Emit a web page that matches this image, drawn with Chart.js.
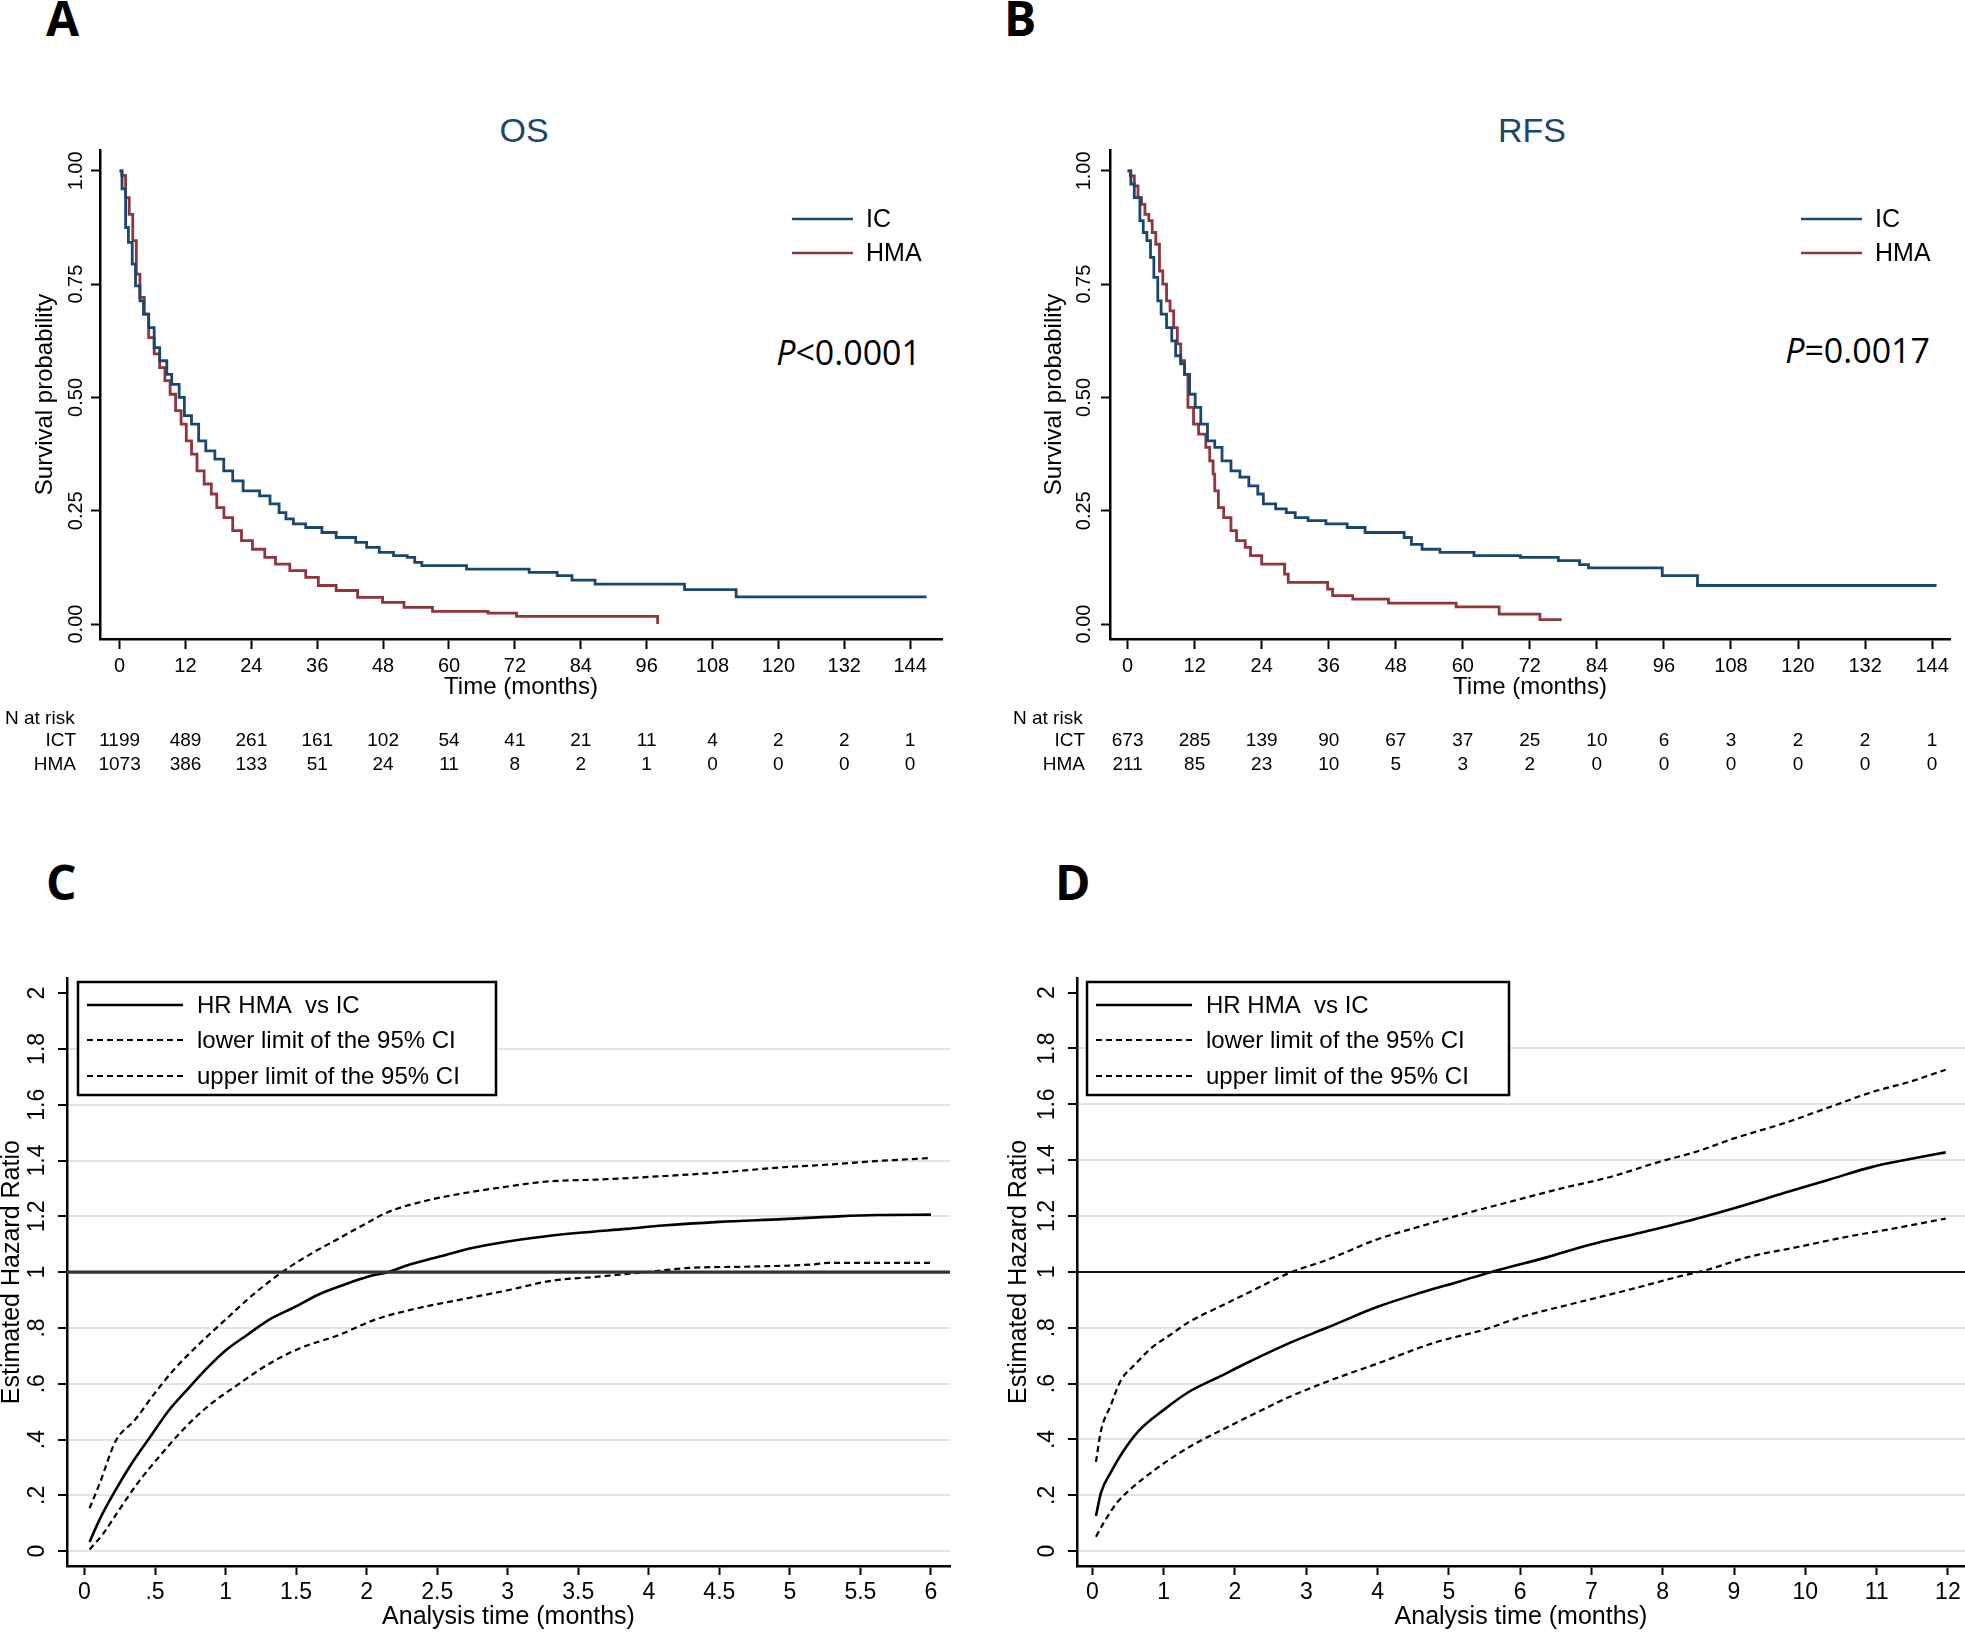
<!DOCTYPE html>
<html>
<head>
<meta charset="utf-8">
<script src="https://cdn.jsdelivr.net/npm/chart.js@4.4.1/dist/chart.umd.min.js"></script>
<style>
  html, body { margin: 0; padding: 0; background: #fff; }
  #page { position: relative; width: 1965px; height: 1636px; background: #fff; overflow: hidden; }
  canvas { position: absolute; }
  .lbl { position: absolute; font-family: "Open Sans", sans-serif; font-weight: 700; font-size: 48px; line-height: 1; color: #000; }
  .ttl { position: absolute; font-family: "Liberation Sans", Arial, sans-serif; font-size: 34px; line-height: 1; color: #1a476f; transform: translateX(-50%); }
  .pval { position: absolute; font-family: "Open Sans", sans-serif; font-size: 34px; line-height: 1; color: #000; white-space: nowrap; }
</style>
</head>
<body>
<div id="page">
  <div class="lbl" style="left:46px; top:-6px">A</div>
  <div class="lbl" style="left:1004px; top:-6px">B</div>
  <div class="lbl" style="left:46px; top:858px">C</div>
  <div class="lbl" style="left:1055px; top:858px">D</div>

  <div class="ttl" style="left:524px; top:113px">OS</div>
  <div class="ttl" style="left:1532px; top:113px">RFS</div>

  <div class="pval" style="right:1044px; top:335px"><i>P</i>&lt;0.0001</div>
  <div class="pval" style="right:35px; top:333px"><i>P</i>=0.0017</div>

  <canvas id="chartA" width="990" height="640" style="left:0px; top:140px"></canvas>
  <canvas id="chartB" width="975" height="640" style="left:990px; top:140px"></canvas>
  <canvas id="chartC" width="990" height="676" style="left:0px; top:960px"></canvas>
  <canvas id="chartD" width="975" height="676" style="left:990px; top:960px"></canvas>
</div>
<script>
// Kaplan-Meier panels (A: OS, B: RFS)
const kmXTicks = [0, 12, 24, 36, 48, 60, 72, 84, 96, 108, 120, 132, 144];
const kmYTicks = [0, 0.25, 0.5, 0.75, 1];
const kmYLabels = ["0.00", "0.25", "0.50", "0.75", "1.00"];

const osIcTime = [0, 0.44, 1.1, 1.6, 2.3, 2.9, 3.7, 4.35, 5.3, 6.3, 7.3, 8.6, 9.5, 10.85, 11.8, 13.1, 14.4, 15.7, 17.35, 18.97, 20.6, 22.5, 25.5, 27.4, 29.05, 30.3, 31.65, 33.9, 36.85, 39.45, 43.0, 45.0, 47.3, 49.9, 52.4, 53.75, 55.05, 63.2, 74.6, 79.7, 82.4, 86.6, 102.9, 112.3, 147];
const osIcSurv = [1.0, 0.96, 0.875, 0.842, 0.794, 0.746, 0.713, 0.684, 0.654, 0.610, 0.581, 0.551, 0.529, 0.500, 0.460, 0.441, 0.404, 0.382, 0.364, 0.338, 0.316, 0.294, 0.283, 0.265, 0.246, 0.232, 0.221, 0.213, 0.202, 0.191, 0.180, 0.169, 0.158, 0.151, 0.147, 0.136, 0.129, 0.121, 0.114, 0.107, 0.097, 0.088, 0.076, 0.060, 0.060];
const osHmaTime = [0, 0.4, 1.09, 1.75, 2.4, 3.04, 3.7, 4.5, 5.3, 6.3, 7.3, 8.25, 9.2, 10.2, 11.2, 12.15, 13.1, 14.1, 15.4, 16.7, 17.7, 19.0, 20.6, 22.2, 24.2, 26.45, 28.4, 31.0, 33.9, 36.2, 39.45, 43.35, 47.9, 51.8, 57.0, 67.1, 72.3, 98];
const osHmaSurv = [1.0, 0.99, 0.941, 0.904, 0.846, 0.772, 0.721, 0.684, 0.632, 0.596, 0.566, 0.537, 0.507, 0.471, 0.441, 0.404, 0.375, 0.338, 0.309, 0.287, 0.257, 0.235, 0.206, 0.184, 0.165, 0.147, 0.132, 0.118, 0.103, 0.085, 0.074, 0.059, 0.048, 0.037, 0.028, 0.024, 0.017, 0.0];

const rfsIcTime = [0, 0.58, 1.2, 2.2, 2.8, 3.45, 4.1, 4.7, 5.4, 6.0, 6.97, 7.9, 8.6, 9.5, 10.2, 11.1, 12.1, 13.1, 14.3, 15.6, 16.9, 18.5, 20.1, 21.7, 23.3, 24.3, 26.5, 28.4, 30.0, 32.3, 35.5, 39.3, 42.5, 49.5, 50.8, 52.7, 55.9, 62.0, 70.3, 77.1, 80.9, 82.5, 95.7, 102.0, 144.8];
const rfsIcSurv = [1.0, 0.971, 0.941, 0.890, 0.864, 0.846, 0.809, 0.765, 0.713, 0.684, 0.654, 0.625, 0.592, 0.574, 0.551, 0.507, 0.478, 0.441, 0.404, 0.390, 0.360, 0.338, 0.324, 0.305, 0.287, 0.265, 0.254, 0.246, 0.235, 0.228, 0.221, 0.213, 0.202, 0.191, 0.176, 0.165, 0.158, 0.151, 0.147, 0.140, 0.131, 0.124, 0.107, 0.085, 0.085];
const rfsHmaTime = [0, 0.5, 1.2, 1.86, 2.5, 3.1, 3.8, 4.4, 5.05, 5.7, 6.3, 6.97, 7.6, 8.25, 8.9, 9.5, 10.2, 10.8, 11.8, 12.7, 14.0, 14.7, 15.3, 15.6, 16.25, 17.2, 18.5, 19.5, 21.05, 22.0, 24.0, 28.1, 28.75, 35.8, 36.7, 40.3, 46.7, 58.8, 66.5, 73.8, 77.7];
const rfsHmaSurv = [1.0, 0.989, 0.967, 0.941, 0.926, 0.904, 0.890, 0.864, 0.838, 0.779, 0.75, 0.713, 0.691, 0.654, 0.618, 0.581, 0.551, 0.478, 0.441, 0.419, 0.390, 0.360, 0.331, 0.294, 0.257, 0.235, 0.206, 0.184, 0.169, 0.151, 0.132, 0.110, 0.092, 0.077, 0.0625, 0.055, 0.046, 0.038, 0.022, 0.0096, 0.0096];

const osRiskIct = [1199, 489, 261, 161, 102, 54, 41, 21, 11, 4, 2, 2, 1];
const osRiskHma = [1073, 386, 133, 51, 24, 11, 8, 2, 1, 0, 0, 0, 0];
const rfsRiskIct = [673, 285, 139, 90, 67, 37, 25, 10, 6, 3, 2, 2, 1];
const rfsRiskHma = [211, 85, 23, 10, 5, 3, 2, 0, 0, 0, 0, 0, 0];

// hazard ratio panels (C: 0-6 months, D: 0-12 months)
const hrYTicks = [0, 0.2, 0.4, 0.6, 0.8, 1, 1.2, 1.4, 1.6, 1.8, 2];
const hrYLabels = ["0", ".2", ".4", ".6", ".8", "1", "1.2", "1.4", "1.6", "1.8", "2"];
const hrCXTicks = [0, 0.5, 1, 1.5, 2, 2.5, 3, 3.5, 4, 4.5, 5, 5.5, 6];
const hrCXLabels = ["0", ".5", "1", "1.5", "2", "2.5", "3", "3.5", "4", "4.5", "5", "5.5", "6"];
const hrDXTicks = [0, 1, 2, 3, 4, 5, 6, 7, 8, 9, 10, 11, 12];
const hrDXLabels = ["0", "1", "2", "3", "4", "5", "6", "7", "8", "9", "10", "11", "12"];

const hrCTime = [0.036, 0.11, 0.22, 0.33, 0.47, 0.6, 0.73, 0.865, 1.0, 1.15, 1.31, 1.49, 1.66, 1.84, 2.02, 2.15, 2.29, 2.51, 2.73, 3.0, 3.26, 3.53, 3.84, 4.1, 4.5, 4.95, 5.26, 5.61, 6.0];
const hrCValue = [0.033, 0.117, 0.219, 0.311, 0.413, 0.506, 0.58, 0.654, 0.719, 0.774, 0.83, 0.875, 0.92, 0.955, 0.985, 1.0, 1.025, 1.055, 1.085, 1.11, 1.128, 1.142, 1.155, 1.167, 1.18, 1.19, 1.198, 1.205, 1.206];
const hrCUpTime = [0.036, 0.11, 0.22, 0.355, 0.49, 0.64, 0.82, 1.0, 1.18, 1.4, 1.62, 1.8, 1.98, 2.15, 2.42, 2.69, 3.0, 3.26, 3.7, 4.06, 4.5, 4.95, 5.26, 5.61, 6.0];
const hrCUpValue = [0.154, 0.246, 0.394, 0.469, 0.561, 0.654, 0.746, 0.83, 0.913, 1.0, 1.07, 1.12, 1.17, 1.215, 1.256, 1.283, 1.307, 1.324, 1.333, 1.343, 1.357, 1.376, 1.385, 1.398, 1.409];
const hrCLoTime = [0.036, 0.13, 0.24, 0.38, 0.53, 0.69, 0.865, 1.09, 1.31, 1.53, 1.8, 2.06, 2.33, 2.69, 3.0, 3.31, 3.62, 4.02, 4.28, 4.73, 5.17, 5.26, 6.0];
const hrCLoValue = [0.006, 0.061, 0.144, 0.246, 0.339, 0.431, 0.515, 0.598, 0.672, 0.728, 0.774, 0.83, 0.867, 0.904, 0.935, 0.969, 0.983, 1.002, 1.015, 1.02, 1.028, 1.033, 1.033];

const hrDTime = [0.05, 0.12, 0.26, 0.43, 0.65, 1.0, 1.35, 1.79, 2.15, 2.76, 3.29, 4.0, 4.6, 5.14, 5.67, 6.37, 6.99, 7.6, 8.2, 9.0, 9.71, 10.33, 10.94, 11.47, 11.97];
const hrDValue = [0.126, 0.209, 0.283, 0.357, 0.431, 0.506, 0.570, 0.626, 0.672, 0.745, 0.80, 0.875, 0.925, 0.965, 1.005, 1.052, 1.098, 1.135, 1.172, 1.228, 1.283, 1.33, 1.376, 1.404, 1.428];
const hrDUpTime = [0.05, 0.12, 0.26, 0.39, 0.61, 0.83, 1.09, 1.35, 1.79, 2.23, 2.76, 3.29, 4.0, 4.6, 5.23, 5.93, 6.63, 7.25, 7.95, 8.48, 9.0, 9.71, 10.33, 10.94, 11.47, 11.97];
const hrDUpValue = [0.320, 0.431, 0.524, 0.607, 0.672, 0.728, 0.774, 0.82, 0.876, 0.931, 0.996, 1.043, 1.117, 1.163, 1.209, 1.256, 1.302, 1.339, 1.394, 1.431, 1.478, 1.533, 1.589, 1.644, 1.681, 1.724];
const hrDLoTime = [0.05, 0.17, 0.34, 0.56, 0.83, 1.09, 1.44, 1.79, 2.23, 2.76, 3.29, 4.0, 4.79, 5.49, 6.02, 6.72, 7.6, 8.22, 8.66, 9.18, 9.89, 10.59, 11.21, 11.97];
const hrDLoValue = [0.052, 0.107, 0.172, 0.228, 0.283, 0.33, 0.385, 0.431, 0.487, 0.552, 0.607, 0.672, 0.746, 0.793, 0.839, 0.885, 0.941, 0.983, 1.01, 1.052, 1.089, 1.126, 1.154, 1.191];

const icColor = "#1a476f";
const hmaColor = "#90353b";
const fontFamily = '"Liberation Sans", Arial, sans-serif';
const ciDash = [6, 4];

Chart.defaults.font.family = fontFamily;
Chart.defaults.color = "#000";

function pts(xs, ys) {
  return xs.map((x, i) => ({ x: x, y: ys[i] }));
}

function kmChart(id, o) {
  const extras = {
    id: "kmExtras",
    afterDraw(chart) {
      const ctx = chart.ctx;
      const x = chart.scales.x;
      ctx.save();
      ctx.fillStyle = "#000";
      ctx.font = "19px " + fontFamily;
      ctx.textBaseline = "middle";
      ctx.textAlign = "left";
      ctx.fillText("N at risk", o.riskLeft, 579);
      ctx.textAlign = "right";
      ctx.fillText("ICT", o.riskNameRight, 601);
      ctx.fillText("HMA", o.riskNameRight, 625);
      ctx.textAlign = "center";
      kmXTicks.forEach((t, i) => {
        const px = x.getPixelForValue(t);
        ctx.fillText(String(o.riskIct[i]), px, 601);
        ctx.fillText(String(o.riskHma[i]), px, 625);
      });
      // legend
      ctx.lineWidth = 2.5;
      ctx.strokeStyle = icColor;
      ctx.beginPath();
      ctx.moveTo(o.legX, 79);
      ctx.lineTo(o.legX + 61, 79);
      ctx.stroke();
      ctx.strokeStyle = hmaColor;
      ctx.beginPath();
      ctx.moveTo(o.legX, 113);
      ctx.lineTo(o.legX + 61, 113);
      ctx.stroke();
      ctx.font = "25px " + fontFamily;
      ctx.textAlign = "left";
      ctx.fillText("IC", o.legX + 74, 80);
      ctx.fillText("HMA", o.legX + 74, 114);
      ctx.restore();
    }
  };

  return new Chart(document.getElementById(id), {
    type: "line",
    data: {
      datasets: [
        { label: "IC", data: pts(o.icT, o.icS), borderColor: icColor, borderWidth: 2.8, stepped: "before", pointRadius: 0 },
        { label: "HMA", data: pts(o.hmaT, o.hmaS), borderColor: hmaColor, borderWidth: 2.8, stepped: "before", pointRadius: 0 }
      ]
    },
    options: {
      responsive: false,
      animation: false,
      devicePixelRatio: 1,
      layout: { padding: { left: 0, top: 10, right: o.padRight, bottom: 71 } },
      plugins: { legend: { display: false }, tooltip: { enabled: false } },
      scales: {
        x: {
          type: "linear",
          min: o.xMin,
          max: o.xMax,
          afterBuildTicks: s => { s.ticks = kmXTicks.map(v => ({ value: v })); },
          afterFit: s => { s.height = 70; },
          ticks: { autoSkip: false, maxRotation: 0, minRotation: 0, padding: 5, color: "#000", font: { size: 20 }, callback: v => String(v) },
          grid: { drawOnChartArea: false, drawTicks: true, tickLength: 10, tickColor: "#000", tickWidth: 2 },
          border: { display: true, color: "#000", width: 2.5 },
          title: { display: true, text: "Time (months)", color: "#000", font: { size: 24, lineHeight: 1 }, padding: { top: 0, bottom: 10 } }
        },
        y: {
          type: "linear",
          min: -0.033,
          max: 1.046,
          afterBuildTicks: s => { s.ticks = kmYTicks.map(v => ({ value: v })); },
          afterFit: s => { s.width = o.yWidth; },
          ticks: { autoSkip: false, minRotation: 90, maxRotation: 90, crossAlign: "center", padding: o.yTickPad, color: "#000", font: { size: 20 },
                   callback: v => kmYLabels[kmYTicks.indexOf(v)] },
          grid: { drawOnChartArea: false, drawTicks: true, tickLength: 9, tickColor: "#000", tickWidth: 2 },
          border: { display: true, color: "#000", width: 2.5 },
          title: { display: true, text: "Survival probability", color: "#000", font: { size: 24, lineHeight: 1 }, padding: { top: o.yTitlePad, bottom: 0 } }
        }
      }
    },
    plugins: [extras]
  });
}

function hrChart(id, o) {
  const legendBox = {
    id: "hrLegend",
    afterDraw(chart) {
      const ctx = chart.ctx;
      ctx.save();
      ctx.fillStyle = "#fff";
      ctx.fillRect(o.boxX, 22, o.boxW, 113);
      ctx.strokeStyle = "#000";
      ctx.lineWidth = 2.5;
      ctx.strokeRect(o.boxX, 22, o.boxW, 113);
      const rows = [
        { y: 45, text: "HR HMA  vs IC", dash: [], w: 2.6 },
        { y: 80, text: "lower limit of the 95% CI", dash: ciDash, w: 2.2 },
        { y: 116, text: "upper limit of the 95% CI", dash: ciDash, w: 2.2 }
      ];
      ctx.font = "24px " + fontFamily;
      ctx.textBaseline = "middle";
      ctx.textAlign = "left";
      rows.forEach(r => {
        ctx.setLineDash(r.dash);
        ctx.lineWidth = r.w;
        ctx.beginPath();
        ctx.moveTo(o.boxX + 9, r.y);
        ctx.lineTo(o.boxX + 105, r.y);
        ctx.stroke();
        ctx.fillStyle = "#000";
        ctx.fillText(r.text, o.boxX + 119, r.y + 1);
      });
      ctx.restore();
    }
  };

  return new Chart(document.getElementById(id), {
    type: "line",
    data: {
      datasets: [
        { label: "ref", data: [{ x: o.xMin, y: 1 }, { x: o.xMax, y: 1 }], borderColor: o.refColor, borderWidth: o.refWidth, pointRadius: 0 },
        { label: "HR HMA vs IC", data: pts(o.t, o.v), borderColor: "#000", borderWidth: 2.6, pointRadius: 0, cubicInterpolationMode: "monotone" },
        { label: "lower", data: pts(o.loT, o.loV), borderColor: "#000", borderWidth: 2.2, borderDash: ciDash, pointRadius: 0, cubicInterpolationMode: "monotone" },
        { label: "upper", data: pts(o.upT, o.upV), borderColor: "#000", borderWidth: 2.2, borderDash: ciDash, pointRadius: 0, cubicInterpolationMode: "monotone" }
      ]
    },
    options: {
      responsive: false,
      animation: false,
      devicePixelRatio: 1,
      layout: { padding: { left: 0, top: 13, right: o.padRight, bottom: 0 } },
      plugins: { legend: { display: false }, tooltip: { enabled: false } },
      scales: {
        x: {
          type: "linear",
          min: o.xMin,
          max: o.xMax,
          afterBuildTicks: s => { s.ticks = o.xTicks.map(v => ({ value: v })); },
          afterFit: s => { s.height = 70; },
          ticks: { autoSkip: false, maxRotation: 0, minRotation: 0, padding: 4, color: "#000", font: { size: 23 },
                   callback: v => o.xLabels[o.xTicks.indexOf(v)] },
          grid: { drawOnChartArea: false, drawTicks: true, tickLength: 9, tickColor: "#000", tickWidth: 2 },
          border: { display: true, color: "#000", width: 2.5 },
          title: { display: true, text: "Analysis time (months)", color: "#000", font: { size: 25, lineHeight: 1 }, padding: { top: 0, bottom: 6.5 } }
        },
        y: {
          type: "linear",
          min: -0.053,
          max: 2.053,
          afterBuildTicks: s => { s.ticks = hrYTicks.map(v => ({ value: v })); },
          afterFit: s => { s.width = o.yWidth; },
          ticks: { autoSkip: false, minRotation: 90, maxRotation: 90, crossAlign: "center", padding: o.yTickPad, color: "#000", font: { size: 23 },
                   callback: v => hrYLabels[hrYTicks.indexOf(v)] },
          grid: {
            drawOnChartArea: true, drawTicks: true, tickLength: 9, tickColor: "#000", tickWidth: 2, lineWidth: 2,
            color: c => (c.tick && c.tick.value === 2) ? "rgba(0,0,0,0)" : "#e4e4e4"
          },
          border: { display: true, color: "#000", width: 2.5 },
          title: { display: true, text: "Estimated Hazard Ratio", color: "#000", font: { size: 25, lineHeight: 1 }, padding: { top: o.yTitlePad, bottom: 0 } }
        }
      }
    },
    plugins: [legendBox]
  });
}

kmChart("chartA", {
  icT: osIcTime, icS: osIcSurv, hmaT: osHmaTime, hmaS: osHmaSurv,
  riskIct: osRiskIct, riskHma: osRiskHma,
  xMin: -3.57, xMax: 149.8, yWidth: 100, padRight: 48,
  yTickPad: -4.5, yTitlePad: 33.4,
  riskLeft: 5, riskNameRight: 76, legX: 792
});

kmChart("chartB", {
  icT: rfsIcTime, icS: rfsIcSurv, hmaT: rfsHmaTime, hmaS: rfsHmaSurv,
  riskIct: rfsRiskIct, riskHma: rfsRiskHma,
  xMin: -3.15, xMax: 147.2, yWidth: 120, padRight: 15,
  yTickPad: -2.5, yTitlePad: 52,
  riskLeft: 23, riskNameRight: 95, legX: 811
});

hrChart("chartC", {
  t: hrCTime, v: hrCValue, upT: hrCUpTime, upV: hrCUpValue, loT: hrCLoTime, loV: hrCLoValue,
  xTicks: hrCXTicks, xLabels: hrCXLabels,
  xMin: -0.124, xMax: 6.135, yWidth: 67, padRight: 40,
  yTickPad: 4.5, yTitlePad: 0,
  refColor: "#333", refWidth: 3.2,
  boxX: 78, boxW: 418
});

hrChart("chartD", {
  t: hrDTime, v: hrDValue, upT: hrDUpTime, upV: hrDUpValue, loT: hrDLoTime, loV: hrDLoValue,
  xTicks: hrDXTicks, xLabels: hrDXLabels,
  xMin: -0.216, xMax: 12.24, yWidth: 87, padRight: 0,
  yTickPad: 4, yTitlePad: 17,
  refColor: "#111", refWidth: 2,
  boxX: 97, boxW: 422
});
</script>
</body>
</html>
